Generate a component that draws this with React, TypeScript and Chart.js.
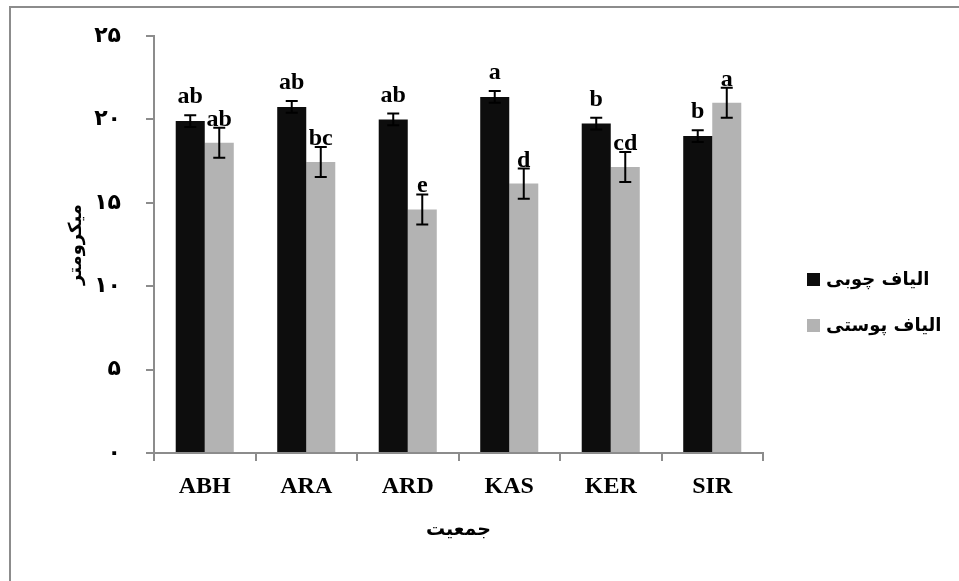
import React, { useEffect, useRef } from "react";
import { Chart, registerables } from "chart.js";

Chart.register(...registerables);

const categories = ["ABH", "ARA", "ARD", "KAS", "KER", "SIR"];
const woodyValues = [19.9, 20.75, 20.0, 21.35, 19.75, 19.0];
const woodyErrors = [0.35, 0.35, 0.35, 0.35, 0.35, 0.35];
const woodyLetters = ["ab", "ab", "ab", "a", "b", "b"];
const barkValues = [18.6, 17.45, 14.6, 16.15, 17.15, 21.0];
const barkErrors = [0.9, 0.9, 0.9, 0.9, 0.9, 0.9];
const barkLetters = ["ab", "bc", "e", "d", "cd", "a"];
const yTickLabels = ["۰", "۵", "۱۰", "۱۵", "۲۰", "۲۵"];
const seriesNames = ["الیاف چوبی", "الیاف پوستی"];
const yTitle = "میکرومتر";
const xTitle = "جمعیت";

const errorsBySeries = [woodyErrors, barkErrors];
const lettersBySeries = [woodyLetters, barkLetters];

const PERSIAN_FONT = "'DejaVu Sans', sans-serif";
const SERIF_FONT = "'Liberation Serif', 'Times New Roman', serif";
const AXIS_COLOR = "#8c8c8c";

const decorPlugin = {
  id: "decor",
  beforeDraw(chart: any) {
    const { ctx } = chart;
    ctx.save();
    ctx.strokeStyle = AXIS_COLOR;
    ctx.lineWidth = 2;
    ctx.beginPath();
    ctx.moveTo(10, chart.height + 5);
    ctx.lineTo(10, 7);
    ctx.lineTo(chart.width + 5, 7);
    ctx.stroke();
    ctx.restore();
  },
  afterDatasetsDraw(chart: any) {
    const { ctx } = chart;
    const yScale = chart.scales.y;
    ctx.save();
    chart.data.datasets.forEach((ds: any, di: number) => {
      const meta = chart.getDatasetMeta(di);
      const errs = errorsBySeries[di];
      const letters = lettersBySeries[di];
      meta.data.forEach((bar: any, i: number) => {
        const v = ds.data[i];
        const e = errs[i];
        const x = bar.x;
        const yTop = yScale.getPixelForValue(v + e);
        const yBot = yScale.getPixelForValue(v - e);
        ctx.strokeStyle = "#000";
        ctx.lineWidth = 2;
        ctx.beginPath();
        ctx.moveTo(x, yTop);
        ctx.lineTo(x, yBot);
        ctx.moveTo(x - 6, yTop);
        ctx.lineTo(x + 6, yTop);
        ctx.moveTo(x - 6, yBot);
        ctx.lineTo(x + 6, yBot);
        ctx.stroke();
        ctx.fillStyle = "#000";
        ctx.font = `bold 24px ${SERIF_FONT}`;
        ctx.textAlign = "center";
        ctx.textBaseline = "alphabetic";
        const gap = di === 0 ? 12 : 2;
        ctx.fillText(letters[i], x, yTop - gap);
      });
    });
    // legend
    const items = chart.data.datasets;
    const ys = [280, 326];
    items.forEach((ds: any, di: number) => {
      const cy = ys[di];
      ctx.fillStyle = ds.backgroundColor;
      ctx.fillRect(807, cy - 7, 13, 13);
      ctx.fillStyle = "#000";
      ctx.font = `bold 18px ${PERSIAN_FONT}`;
      ctx.textAlign = "left";
      ctx.textBaseline = "middle";
      ctx.fillText(ds.label, 826, cy);
    });
    ctx.restore();
  },
};

export default function App() {
  const canvasRef = useRef<HTMLCanvasElement | null>(null);

  useEffect(() => {
    document.body.style.margin = "0";
    const canvas = canvasRef.current;
    if (!canvas) return;
    const chart = new Chart(canvas, {
      type: "bar",
      data: {
        labels: categories,
        datasets: [
          {
            label: seriesNames[0],
            data: woodyValues,
            backgroundColor: "#0d0d0d",
            categoryPercentage: 0.572,
            barPercentage: 1.0,
          },
          {
            label: seriesNames[1],
            data: barkValues,
            backgroundColor: "#b3b3b3",
            categoryPercentage: 0.572,
            barPercentage: 1.0,
          },
        ],
      },
      options: {
        animation: false,
        responsive: false,
        maintainAspectRatio: false,
        layout: { padding: { left: 0, right: 196, top: 36, bottom: 0 } },
        plugins: {
          legend: { display: false },
          tooltip: { enabled: false },
        },
        scales: {
          x: {
            grid: {
              drawOnChartArea: false,
              drawTicks: true,
              tickLength: 8,
              color: AXIS_COLOR,
              lineWidth: 2,
            },
            border: { display: true, color: AXIS_COLOR, width: 2 },
            ticks: {
              color: "#000",
              font: { family: SERIF_FONT, size: 24, weight: "bold" },
              padding: 11,
            },
            title: {
              display: true,
              text: xTitle,
              color: "#000",
              font: { family: PERSIAN_FONT, size: 19, weight: "bold" },
              padding: { top: 0, bottom: 40 },
            },
            afterFit: (scale: any) => {
              scale.height = 581 - 453;
              scale.paddingLeft = 0;
              scale.paddingRight = 0;
            },
          },
          y: {
            min: 0,
            max: 25,
            grid: {
              drawOnChartArea: false,
              drawTicks: true,
              tickLength: 8,
              color: AXIS_COLOR,
              lineWidth: 2,
            },
            border: { display: true, color: AXIS_COLOR, width: 2 },
            ticks: {
              stepSize: 5,
              color: "#000",
              padding: 25,
              font: { family: PERSIAN_FONT, size: 22, weight: "bold" },
              callback: (_v: any, i: number) => yTickLabels[i],
            },
            title: {
              display: true,
              text: yTitle,
              color: "#000",
              font: { family: PERSIAN_FONT, size: 18, weight: "bold" },
              padding: { top: 66, bottom: 0 },
            },
            afterFit: (scale: any) => {
              scale.width = 154;
              scale.paddingTop = 0;
              scale.paddingBottom = 0;
            },
          },
        },
      },
      plugins: [decorPlugin],
    });
    return () => chart.destroy();
  }, []);

  return (
    <div style={{ width: 959, height: 581, background: "#fff" }}>
      <canvas ref={canvasRef} width={959} height={581} style={{ display: "block" }} />
    </div>
  );
}
